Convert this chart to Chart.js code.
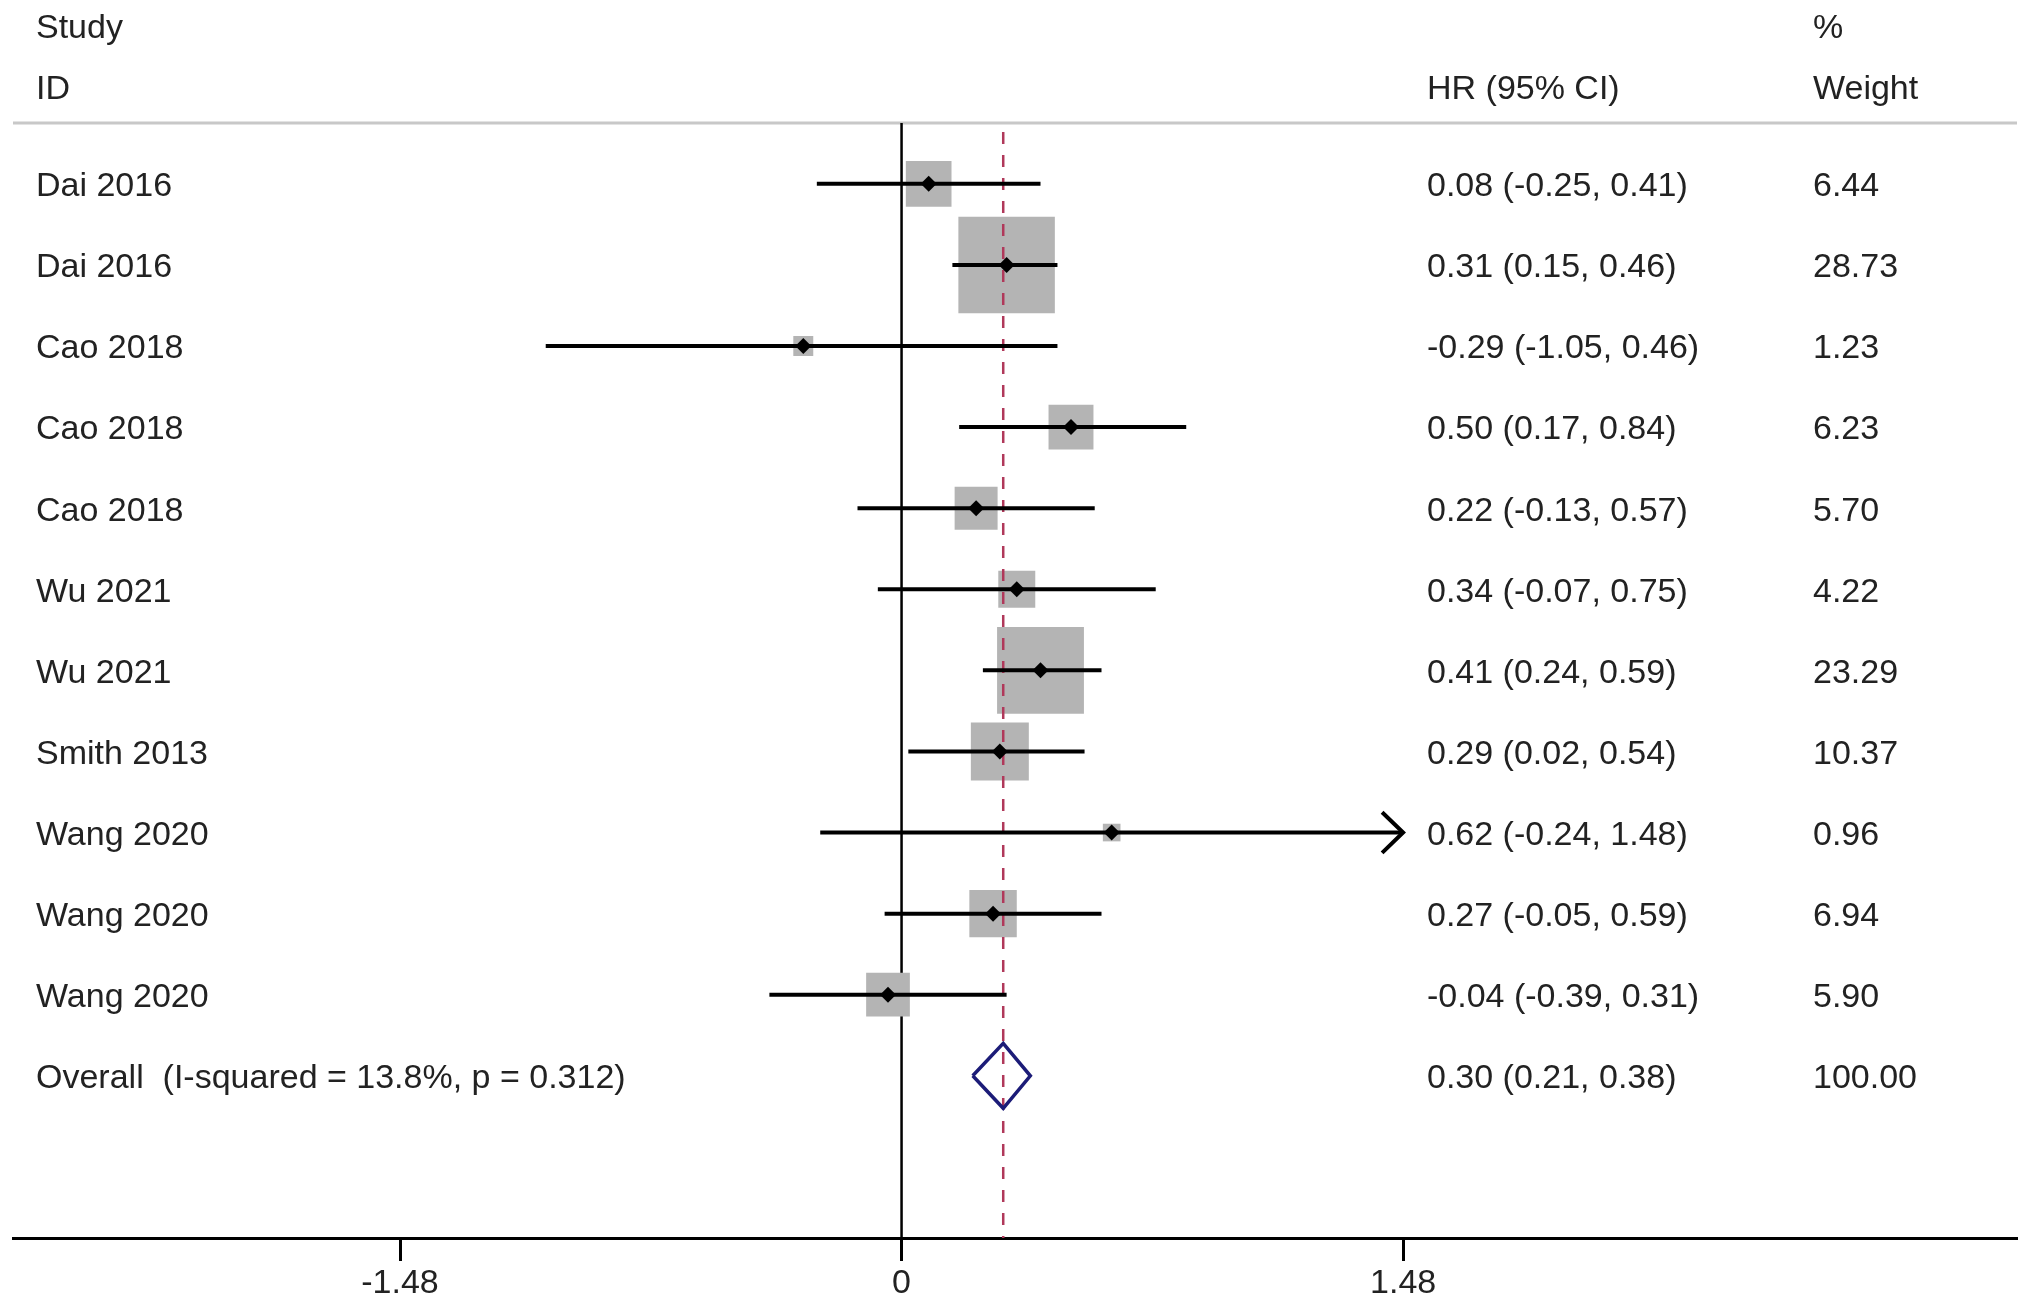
<!DOCTYPE html>
<html>
<head>
<meta charset="utf-8">
<title>Forest plot</title>
<script src="https://cdn.jsdelivr.net/npm/chart.js@4.4.1/dist/chart.umd.min.js"></script>
<style>
  html, body { margin: 0; padding: 0; background: #fff; }
  canvas { display: block; }
</style>
</head>
<body>
<canvas id="forest" width="2031" height="1309" style="width:2031px;height:1309px"></canvas>
<script>
// Datos del forest plot
const studies = ['Dai 2016', 'Dai 2016', 'Cao 2018', 'Cao 2018', 'Cao 2018', 'Wu 2021', 'Wu 2021', 'Smith 2013', 'Wang 2020', 'Wang 2020', 'Wang 2020'];
const hr = [0.08, 0.31, -0.29, 0.50, 0.22, 0.34, 0.41, 0.29, 0.62, 0.27, -0.04];
const lower = [-0.25, 0.15, -1.05, 0.17, -0.13, -0.07, 0.24, 0.02, -0.24, -0.05, -0.39];
const upper = [0.41, 0.46, 0.46, 0.84, 0.57, 0.75, 0.59, 0.54, 1.48, 0.59, 0.31];
const weights = [6.44, 28.73, 1.23, 6.23, 5.70, 4.22, 23.29, 10.37, 0.96, 6.94, 5.90];

const overallLabel = 'Overall  (I-squared = 13.8%, p = 0.312)';
const overallHr = 0.30;
const overallLower = 0.21;
const overallUpper = 0.38;
const overallWeight = 100.00;

const xTicks = [-1.48, 0, 1.48];

// Escala (el eje ocupa todo el ancho, como en Stata)
const xMin = -2.622;
const xMax = 3.2915;
const xCap = 1.48;
const FONT = '"Liberation Sans", Arial, sans-serif';
const TEXT = '#222222';

const rows = studies.map((_, i) => i + 1);
const overallRow = studies.length + 1;

// Líneas de IC
const ciSets = studies.map((s, i) => ({
    type: 'line',
    data: [{ x: lower[i], y: rows[i] }, { x: Math.min(upper[i], xCap), y: rows[i] }],
    borderColor: '#000',
    borderWidth: 4,
    pointRadius: 0,
    order: 3
}));

// Flechas para IC recortados
const arrowSets = studies.map((s, i) => i).filter(i => upper[i] >= xCap).map(i => ({
    type: 'line',
    data: [
        { x: xCap - 0.062, y: rows[i] - 0.25 },
        { x: xCap, y: rows[i] },
        { x: xCap - 0.062, y: rows[i] + 0.25 }
    ],
    borderColor: '#000',
    borderWidth: 4,
    pointRadius: 0,
    order: 3
}));

const forestText = {
    id: 'forestText',
    beforeDatasetsDraw(chart) {
        const { ctx, chartArea } = chart;
        ctx.save();
        ctx.strokeStyle = '#c8c8c8';
        ctx.lineWidth = 3;
        ctx.beginPath();
        ctx.moveTo(chartArea.left, chartArea.top);
        ctx.lineTo(chartArea.right, chartArea.top);
        ctx.stroke();
        ctx.restore();
    },
    afterDraw(chart) {
        const { ctx } = chart;
        const y = chart.scales.y;
        const dy = 3; // ajuste óptico del texto
        ctx.save();
        ctx.fillStyle = TEXT;
        ctx.font = '34px ' + FONT;
        ctx.textAlign = 'left';
        ctx.textBaseline = 'middle';
        // Encabezados
        ctx.fillText('Study', 36, y.getPixelForValue(-0.95) + dy);
        ctx.fillText('ID', 36, y.getPixelForValue(-0.2) + dy);
        ctx.fillText('HR (95% CI)', 1427, y.getPixelForValue(-0.2) + dy);
        ctx.fillText('%', 1813, y.getPixelForValue(-0.95) + dy);
        ctx.fillText('Weight', 1813, y.getPixelForValue(-0.2) + dy);
        // Filas
        studies.forEach((s, i) => {
            const py = y.getPixelForValue(rows[i]) + dy;
            ctx.fillText(s, 36, py);
            ctx.fillText(hr[i].toFixed(2) + ' (' + lower[i].toFixed(2) + ', ' + upper[i].toFixed(2) + ')', 1427, py);
            ctx.fillText(weights[i].toFixed(2), 1813, py);
        });
        const oy = y.getPixelForValue(overallRow) + dy;
        ctx.fillText(overallLabel, 36, oy);
        ctx.fillText(overallHr.toFixed(2) + ' (' + overallLower.toFixed(2) + ', ' + overallUpper.toFixed(2) + ')', 1427, oy);
        ctx.fillText(overallWeight.toFixed(2), 1813, oy);
        ctx.restore();
    }
};

new Chart(document.getElementById('forest'), {
    type: 'scatter',
    data: {
        datasets: [
            {
                // Diamante global
                type: 'line',
                data: [
                    { x: overallLower, y: overallRow },
                    { x: overallHr, y: overallRow - 0.4 },
                    { x: overallUpper, y: overallRow },
                    { x: overallHr, y: overallRow + 0.4 },
                    { x: overallLower, y: overallRow }
                ],
                borderColor: '#1c1c78',
                borderWidth: 3.5,
                pointRadius: 0,
                fill: false,
                order: 1
            },
            {
                // Puntos de estimación
                data: studies.map((s, i) => ({ x: hr[i], y: rows[i] })),
                pointStyle: 'rectRot',
                pointRadius: 8,
                backgroundColor: '#000',
                borderWidth: 0,
                order: 2
            },
            ...ciSets,
            ...arrowSets,
            {
                // Línea del efecto global
                type: 'line',
                data: [{ x: overallHr, y: 0.36 }, { x: overallHr, y: 14 }],
                borderColor: '#b0385a',
                borderWidth: 2.5,
                borderDash: [12, 11],
                pointRadius: 0,
                order: 4
            },
            {
                // Cajas de peso
                data: studies.map((s, i) => ({ x: hr[i], y: rows[i] })),
                pointStyle: 'rect',
                pointRadius: ctx => 18 * Math.sqrt(weights[ctx.dataIndex]) / (2 * Math.SQRT1_2),
                backgroundColor: '#b4b4b4',
                borderWidth: 0,
                order: 5
            },
            {
                // Línea de no efecto
                type: 'line',
                data: [{ x: 0, y: 0.25 }, { x: 0, y: 14 }],
                borderColor: '#000',
                borderWidth: 2.5,
                pointRadius: 0,
                order: 6
            }
        ]
    },
    options: {
        responsive: false,
        devicePixelRatio: 1,
        animation: false,
        layout: { autoPadding: false, padding: { left: 13, right: 14, top: 123, bottom: 2 } },
        plugins: {
            legend: { display: false },
            tooltip: { enabled: false },
            title: { display: false }
        },
        scales: {
            x: {
                type: 'linear',
                min: xMin,
                max: xMax,
                afterBuildTicks: scale => { scale.ticks = xTicks.map(v => ({ value: v })); },
                afterFit: scale => { scale.paddingLeft = 0; scale.paddingRight = 0; },
                ticks: {
                    autoSkip: false,
                    maxRotation: 0,
                    padding: 6,
                    color: TEXT,
                    font: { family: FONT, size: 34, lineHeight: 1.0 },
                    callback: v => v === 0 ? '0' : v.toFixed(2)
                },
                grid: {
                    display: true,
                    drawOnChartArea: false,
                    drawTicks: true,
                    tickLength: 23,
                    tickWidth: 3,
                    tickColor: '#000'
                },
                border: { display: true, color: '#000', width: 3 }
            },
            y: {
                type: 'linear',
                display: false,
                min: 0.25,
                max: 14,
                reverse: true
            }
        }
    },
    plugins: [forestText]
});
</script>
</body>
</html>
